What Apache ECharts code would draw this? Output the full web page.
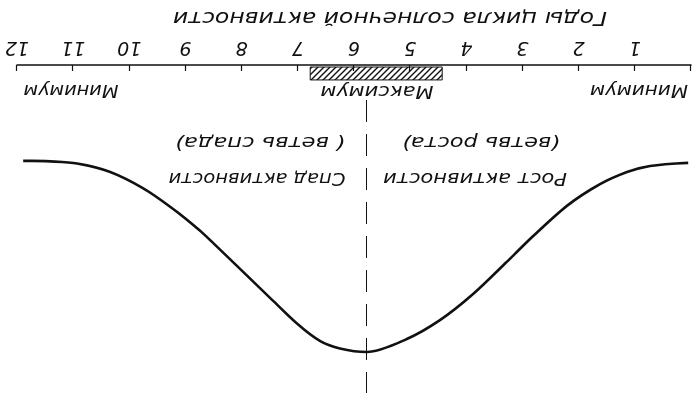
<!DOCTYPE html>
<html style="height: 100%">
<head>
    <meta charset="utf-8">
</head>
<body style="height: 100%; margin: 0; background: #fff">
    <!-- the printed figure is upside down, so the whole chart is turned over -->
    <div id="container" style="width: 694px; height: 393px; transform: rotate(180deg)"></div>

    <script src="https://cdn.jsdelivr.net/npm/echarts@6.0.0/dist/echarts.min.js"></script>
    <script type="text/javascript">
// years of the cycle and relative activity
var years = [0.05, 0.73, 1.14, 1.62, 2.21, 2.81, 3.28, 3.88, 4.47, 5.06, 5.77,
             6.25, 6.60, 7.01, 7.44, 7.90, 8.51, 8.74, 9.22, 9.76, 10.34, 10.93, 11.41, 11.89];
var activity = [34.1, 35.2, 37.3, 41.5, 49.1, 59.6, 68.6, 79.8, 88.9, 95.5, 100,
                98.8, 96.2, 90.2, 82.2, 73.5, 62.0, 57.8, 50.2, 42.9, 37.3, 34.3, 33.6, 33.4];
var tickLabels = ['', '1', '2', '3', '4', '5', '6', '7', '8', '9', '10', '11', '12'];
var maximumSpan = [4.43, 6.78];   // hatched band "Максимум"
var maximumYear = 5.77;           // dashed line
var dashedFrom = 12.2;

var title = 'Годы цикла солнечной активности';
var notes = ['Минимум', 'Максимум', 'Минимум',
             'Рост активности', '(ветвь роста)', 'Спад активности', '( ветвь спада)'];

var dom = document.getElementById('container');
var myChart = echarts.init(dom);

var fontFamily = '"DejaVu Sans"';
var ctx = document.createElement('canvas').getContext('2d');

// italic text stretched to the width it has in the print
function label(text, x, y, width, size) {
    ctx.font = 'italic ' + size + 'px ' + fontFamily;
    var w = ctx.measureText(text).width;
    return {
        type: 'text', x: x, y: y, scaleX: width / w,
        style: {
            text: text, fill: '#111',
            fontStyle: 'italic', fontSize: size, fontFamily: fontFamily,
            align: 'center', verticalAlign: 'middle'
        }
    };
}

// hatch for the maximum band
var hatch = document.createElement('canvas');
hatch.width = 6; hatch.height = 6;
var h = hatch.getContext('2d');
h.strokeStyle = '#111';
h.lineWidth = 1.4;
h.beginPath();
h.moveTo(0, 6); h.lineTo(6, 0);
h.moveTo(-1, 1); h.lineTo(1, -1);
h.moveTo(5, 7); h.lineTo(7, 5);
h.stroke();

var points = years.map(function (y, i) { return [y, activity[i]]; });

var option = {
    animation: false,
    backgroundColor: '#fff',
    grid: { left: 3, right: 17, top: 0, bottom: 65 },
    xAxis: {
        type: 'value', min: 0, max: 12, interval: 1,
        splitLine: { show: false },
        axisLine: { lineStyle: { color: '#111', width: 1.5 } },
        axisTick: { inside: true, length: 6, lineStyle: { color: '#111', width: 1.2 } },
        axisLabel: {
            color: '#111', fontSize: 19, fontStyle: 'italic', fontFamily: fontFamily, margin: 9,
            formatter: function (v) { return tickLabels[v]; }
        }
    },
    yAxis: { type: 'value', min: 0, max: 114.3, show: false },
    series: [{
        type: 'line',
        data: points,
        smooth: 0.3,
        showSymbol: false,
        lineStyle: { color: '#111', width: 2.6 },
        markLine: {
            silent: true,
            symbol: 'none',
            label: { show: false },
            lineStyle: { color: '#111', width: 1, type: [22, 12] },
            data: [[{ coord: [maximumYear, dashedFrom] }, { coord: [maximumYear, 114.3] }]]
        },
        markArea: {
            silent: true,
            itemStyle: { color: { image: hatch, repeat: 'repeat' }, borderColor: '#111', borderWidth: 1 },
            data: [[{ xAxis: maximumSpan[0], yAxis: 0.7 }, { xAxis: maximumSpan[1], yAxis: 5.2 }]]
        }
    }],
    graphic: [
        label(title, 304, 376, 434, 19),
        label(notes[0], 55, 303, 98, 18),
        label(notes[1], 317, 302, 113, 18),
        label(notes[2], 623, 303, 95, 18),
        label(notes[3], 219, 215, 184, 18),
        label(notes[4], 213, 251, 158, 18),
        label(notes[5], 437, 215, 177, 18),
        label(notes[6], 434, 251, 170, 18)
    ]
};

myChart.setOption(option);
    </script>
</body>
</html>
